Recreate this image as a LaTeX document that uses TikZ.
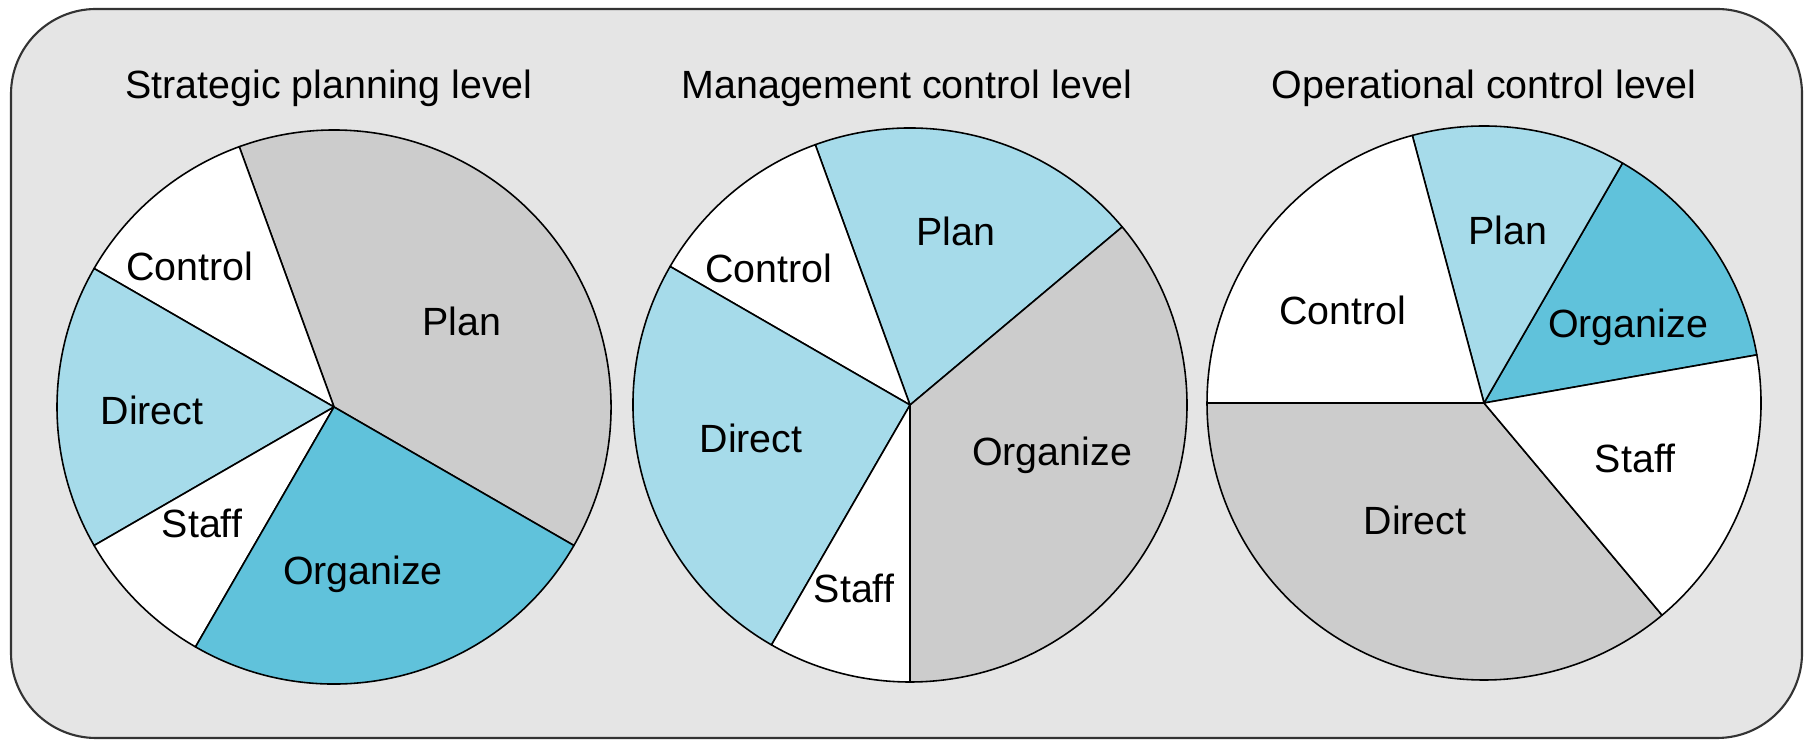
\documentclass[tikz,border=0pt]{standalone}
\usepackage{xcolor}
\usepackage{fontspec}
\setmainfont{Liberation Sans}
\usepackage{tikz}

\definecolor{panelgray}{RGB}{229,229,229}
\definecolor{piegray}{RGB}{204,204,204}
\definecolor{lightblue}{RGB}{166,219,234}
\definecolor{midblue}{RGB}{96,194,219}

\begin{document}
\begin{tikzpicture}[x=0.01cm,y=0.01cm,
		every node/.style={font=\fontsize{11.2pt}{13pt}\selectfont, inner sep=0pt, anchor=base},
		slice/.style={draw=black, line width=0.45pt, line join=round}]
		\useasboundingbox (0,0) rectangle (1810,740);
		\draw[fill=panelgray, draw=black!80, line width=0.6pt, rounded corners=0.85cm] (11,2) rectangle (1802,731);

		\coordinate (c1) at (334,333);
		\coordinate (c2) at (910,335);
		\coordinate (c3) at (1484,337);

		% strategic planning level
		\filldraw[slice, fill=piegray] (c1) -- ++(-30:277) arc (-30:110:277) -- cycle;
		\filldraw[slice, fill=white] (c1) -- ++(110:277) arc (110:150:277) -- cycle;
		\filldraw[slice, fill=lightblue] (c1) -- ++(150:277) arc (150:210:277) -- cycle;
		\filldraw[slice, fill=white] (c1) -- ++(210:277) arc (210:240:277) -- cycle;
		\filldraw[slice, fill=midblue] (c1) -- ++(240:277) arc (240:330:277) -- cycle;

		\node (title1) at (329,641) {Strategic planning level};
		\node (plan1) at (462,404) {Plan};
		\node (control1) at (190,459) {Control};
		\node (direct1) at (152,315) {Direct};
		\node (staff1) at (202,202) {Staff};
		\node (organize1) at (363,155) {Organize};

		% management control level
		\filldraw[slice, fill=lightblue] (c2) -- ++(40:277) arc (40:110:277) -- cycle;
		\filldraw[slice, fill=white] (c2) -- ++(110:277) arc (110:150:277) -- cycle;
		\filldraw[slice, fill=lightblue] (c2) -- ++(150:277) arc (150:240:277) -- cycle;
		\filldraw[slice, fill=white] (c2) -- ++(240:277) arc (240:270:277) -- cycle;
		\filldraw[slice, fill=piegray] (c2) -- ++(270:277) arc (270:400:277) -- cycle;

		\node (title2) at (907,641) {Management control level};
		\node (plan2) at (956,494) {Plan};
		\node (control2) at (769,457) {Control};
		\node (direct2) at (751,287) {Direct};
		\node (staff2) at (854,137) {Staff};
		\node (organize2) at (1052,274) {Organize};

		% operational control level
		\filldraw[slice, fill=midblue] (c3) -- ++(10:277) arc (10:60:277) -- cycle;
		\filldraw[slice, fill=lightblue] (c3) -- ++(60:277) arc (60:105:277) -- cycle;
		\filldraw[slice, fill=white] (c3) -- ++(105:277) arc (105:180:277) -- cycle;
		\filldraw[slice, fill=piegray] (c3) -- ++(180:277) arc (180:310:277) -- cycle;
		\filldraw[slice, fill=white] (c3) -- ++(310:277) arc (310:370:277) -- cycle;

		\node (title3) at (1484,641) {Operational control level};
		\node (plan3) at (1508,495) {Plan};
		\node (control3) at (1343,415) {Control};
		\node (organize3) at (1628,402) {Organize};
		\node (staff3) at (1635,267) {Staff};
		\node (direct3) at (1415,205) {Direct};
	\end{tikzpicture}
\end{document}
